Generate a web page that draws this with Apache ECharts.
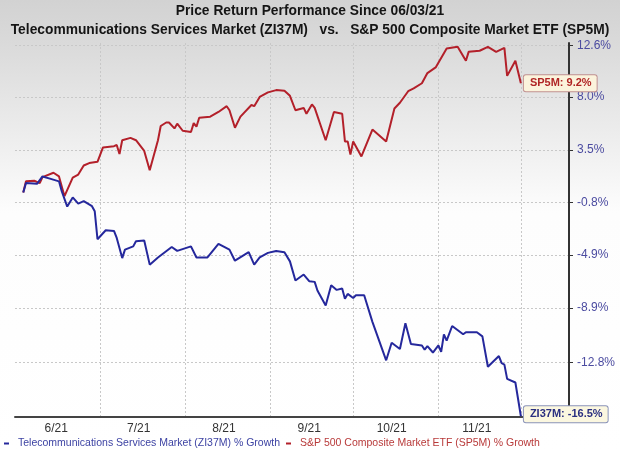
<!DOCTYPE html>
<html><head><meta charset="utf-8">
<script src="https://cdn.jsdelivr.net/npm/echarts@6/dist/echarts.min.js"></script>
<style>html,body{margin:0;padding:0;background:#fff;} #c{width:620px;height:453px;}</style>
</head><body><div id="c"></div>
<script>
const titleLine1 = 'Price Return Performance Since 06/03/21';
const titleLine2 = 'Telecommunications Services Market (ZI37M)   vs.   S&P 500 Composite Market ETF (SP5M)';
const seriesNames = ['Telecommunications Services Market (ZI37M) % Growth', 'S&P 500 Composite Market ETF (SP5M) % Growth'];
const endTags = ['ZI37M', 'SP5M'];

const ziDates = ['2021-06-03','2021-06-04','2021-06-08','2021-06-10','2021-06-13','2021-06-16','2021-06-17','2021-06-19','2021-06-21','2021-06-23','2021-06-25','2021-06-28','2021-06-29','2021-06-30',
 '2021-07-03','2021-07-06','2021-07-07','2021-07-09','2021-07-10','2021-07-13','2021-07-14','2021-07-17','2021-07-19','2021-07-22','2021-07-27','2021-07-29',
 '2021-08-03','2021-08-05','2021-08-09','2021-08-13','2021-08-17','2021-08-19','2021-08-24','2021-08-26','2021-08-28','2021-08-31',
 '2021-09-03','2021-09-06','2021-09-08','2021-09-10','2021-09-13','2021-09-15','2021-09-17','2021-09-18','2021-09-21','2021-09-23','2021-09-25','2021-09-27','2021-09-28','2021-09-29',
 '2021-10-01','2021-10-02','2021-10-05','2021-10-08','2021-10-13','2021-10-15','2021-10-18','2021-10-20','2021-10-22','2021-10-26','2021-10-27','2021-10-28','2021-10-30',
 '2021-11-01','2021-11-02','2021-11-03','2021-11-04','2021-11-06','2021-11-10','2021-11-11','2021-11-15','2021-11-17','2021-11-19','2021-11-23','2021-11-24','2021-11-25','2021-11-26','2021-11-29','2021-12-01'];
const ziValues = [0.0,0.76,0.7,1.3,1.1,0.9,0.1,-1.13,-0.4,-0.9,-0.7,-1.1,-1.5,-3.7,
 -3.0,-3.05,-3.6,-5.15,-4.5,-4.25,-3.85,-3.8,-5.65,-5.1,-4.3,-4.6,
 -4.25,-5.1,-5.1,-4.05,-4.5,-5.35,-4.7,-5.65,-5.1,-4.75,
 -4.6,-4.7,-5.4,-6.85,-6.4,-6.9,-6.95,-7.6,-8.7,-7.2,-7.55,-7.45,-8.2,-7.85,
 -8.15,-7.95,-7.95,-9.9,-12.65,-11.4,-11.85,-10.0,-11.5,-11.6,-11.9,-11.65,-12.1,
 -11.6,-12.05,-10.8,-11.25,-10.2,-10.8,-10.65,-10.65,-10.95,-13.1,-12.35,-12.85,-12.95,-13.95,-14.2,-16.5];

const spDates = ['2021-06-03','2021-06-04','2021-06-07','2021-06-09','2021-06-10','2021-06-14','2021-06-16','2021-06-18','2021-06-21','2021-06-23','2021-06-25','2021-06-27','2021-06-30',
 '2021-07-02','2021-07-06','2021-07-07','2021-07-08','2021-07-09','2021-07-12','2021-07-14','2021-07-17','2021-07-19','2021-07-22','2021-07-23','2021-07-25','2021-07-26','2021-07-28','2021-07-29','2021-07-31',
 '2021-08-03','2021-08-04','2021-08-05','2021-08-06','2021-08-10','2021-08-13','2021-08-16','2021-08-17','2021-08-19','2021-08-21','2021-08-25','2021-08-26','2021-08-28','2021-08-31',
 '2021-09-03','2021-09-06','2021-09-08','2021-09-10','2021-09-13','2021-09-14','2021-09-16','2021-09-17','2021-09-21','2021-09-24','2021-09-27','2021-09-28','2021-09-29','2021-09-30',
 '2021-10-01','2021-10-04','2021-10-08','2021-10-13','2021-10-16','2021-10-18','2021-10-21','2021-10-23','2021-10-26','2021-10-28','2021-10-31',
 '2021-11-04','2021-11-08','2021-11-11','2021-11-12','2021-11-16','2021-11-19','2021-11-22','2021-11-25','2021-11-26','2021-11-29','2021-12-01'];
const spValues = [0.0,0.9,0.95,0.76,1.25,1.6,1.3,-0.3,1.2,1.45,2.2,2.4,2.5,
 3.7,3.8,3.9,3.15,4.3,4.5,4.3,3.4,1.8,4.3,5.5,5.8,5.8,5.3,5.7,5.1,
 5.0,5.75,5.45,6.2,6.3,6.7,7.2,6.85,5.35,6.3,7.3,7.2,8.0,8.4,
 8.6,8.55,8.1,6.85,7.05,6.55,7.35,7.05,4.3,6.7,6.55,4.2,4.2,3.1,
 4.2,2.95,5.2,4.2,7.0,7.5,8.5,8.75,9.2,10.1,10.6,
 12.3,12.45,11.2,12.0,12.1,12.45,12.0,12.35,9.85,11.2,9.2];

const yTickValues = [12.6, 8.0, 3.5, -0.8, -4.9, -8.9, -12.8];
const yTickLabels = ['12.6%', '8.0%', '3.5%', '-0.8%', '-4.9%', '-8.9%', '-12.8%'];
const yRangePct = [-16.55, 12.8];
const xLabelDates = ['2021-06-15','2021-07-15','2021-08-15','2021-09-15','2021-10-15','2021-11-15'];
const xTickLabels = ['6/21', '7/21', '8/21', '9/21', '10/21', '11/21'];
const monthStarts = ['2021-07-01','2021-08-01','2021-09-01','2021-10-01','2021-11-01','2021-12-01'];
const xRange = ['2021-05-31', '2021-12-18'];

// date strings -> UTC timestamps (ms) for a linear value axis
const ts = s => { const p = s.split('-').map(Number); return Date.UTC(p[0], p[1] - 1, p[2]); };
// price-return axis is logarithmic in (1 + r)
const toLog = v => Math.log(1 + v / 100) * 100;
const yTickPos = yTickValues.map(toLog);
const xLabelPos = xLabelDates.map(ts);
const nearest = (arr, v) => { let b = 0; for (let i = 1; i < arr.length; i++) if (Math.abs(arr[i] - v) < Math.abs(arr[b] - v)) b = i; return b; };

const FONT = 'Liberation Sans, Arial, sans-serif';
const BLUE = '#25289c';
const RED = '#b3202a';

const chart = echarts.init(document.getElementById('c'));
chart.setOption({
  animation: false,
  backgroundColor: {
    type: 'linear', x: 0, y: 0, x2: 0, y2: 1,
    colorStops: [
      {offset: 0, color: '#d2d2d2'},
      {offset: 0.12, color: '#dcdcdc'},
      {offset: 0.47, color: '#fdfdfd'},
      {offset: 1, color: '#ffffff'}
    ]
  },
  title: [
    {text: titleLine1, left: 'center', top: 4, padding: 0, textStyle: {fontFamily: FONT, fontSize: 13.8, fontWeight: 'bold', color: '#151515'}},
    {text: titleLine2, left: 'center', top: 23, padding: 0, textStyle: {fontFamily: FONT, fontSize: 13.8, fontWeight: 'bold', color: '#151515'}}
  ],
  grid: {left: 15, right: 51, top: 43, bottom: 36},
  legend: {
    left: 4, top: 438, padding: 0, icon: 'rect', itemWidth: 5, itemHeight: 2, itemGap: 6,
    textStyle: {fontFamily: FONT, fontSize: 10.5, padding: [0, 0, 0, 4]},
    data: [
      {name: seriesNames[0], textStyle: {color: '#3d43a3'}},
      {name: seriesNames[1], textStyle: {color: '#b83a3a'}}
    ]
  },
  xAxis: {
    type: 'value',
    min: ts(xRange[0]), max: ts(xRange[1]) + 12 * 3600e3,
    axisLine: {show: true, onZero: false, lineStyle: {color: '#444', width: 2}},
    axisTick: {show: false, customValues: monthStarts.map(ts)},
    axisLabel: {
      customValues: xLabelPos,
      color: '#333', fontFamily: FONT, fontSize: 12, margin: 6,
      formatter: (v) => xTickLabels[nearest(xLabelPos, v)]
    },
    splitLine: {show: true, lineStyle: {color: '#c8c8c8', type: [2, 2], width: 1}}
  },
  yAxis: {
    type: 'value',
    position: 'right',
    min: toLog(yRangePct[0]), max: toLog(yRangePct[1]),
    axisLine: {show: true, lineStyle: {color: '#333', width: 2}},
    axisTick: {show: true, customValues: yTickPos, length: 4, lineStyle: {color: '#333'}},
    axisLabel: {
      customValues: yTickPos,
      color: '#4b4ba0', fontFamily: FONT, fontSize: 12, margin: 8,
      formatter: (v) => yTickLabels[nearest(yTickPos, v)]
    },
    splitLine: {show: true, lineStyle: {color: '#c8c8c8', type: [2, 2], width: 1}}
  },
  series: [
    {
      name: seriesNames[0], type: 'line', showSymbol: false, symbol: 'none',
      color: BLUE, lineStyle: {width: 2, color: BLUE},
      data: ziDates.map((d, i) => [ts(d), toLog(ziValues[i])]),
      endLabel: {
        show: true, distance: 3,
        formatter: () => endTags[0] + ': ' + ziValues[ziValues.length - 1].toFixed(1) + '%',
        fontFamily: FONT, fontSize: 11, fontWeight: 'bold', color: '#2a2f80',
        backgroundColor: '#fbf7e0', borderColor: '#8a93b8', borderWidth: 1, borderRadius: 2,
        padding: [3, 5, 2, 6], offset: [0, -2]
      },
      z: 3
    },
    {
      name: seriesNames[1], type: 'line', showSymbol: false, symbol: 'none',
      color: RED, lineStyle: {width: 2, color: RED},
      data: spDates.map((d, i) => [ts(d), toLog(spValues[i])]),
      endLabel: {
        show: true, distance: 3,
        formatter: () => endTags[1] + ': ' + spValues[spValues.length - 1].toFixed(1) + '%',
        fontFamily: FONT, fontSize: 11, fontWeight: 'bold', color: '#b02525',
        backgroundColor: '#fbf3dc', borderColor: '#c09090', borderWidth: 1, borderRadius: 2,
        padding: [3, 5, 2, 6]
      },
      z: 2
    }
  ]
});
</script>
</body></html>
